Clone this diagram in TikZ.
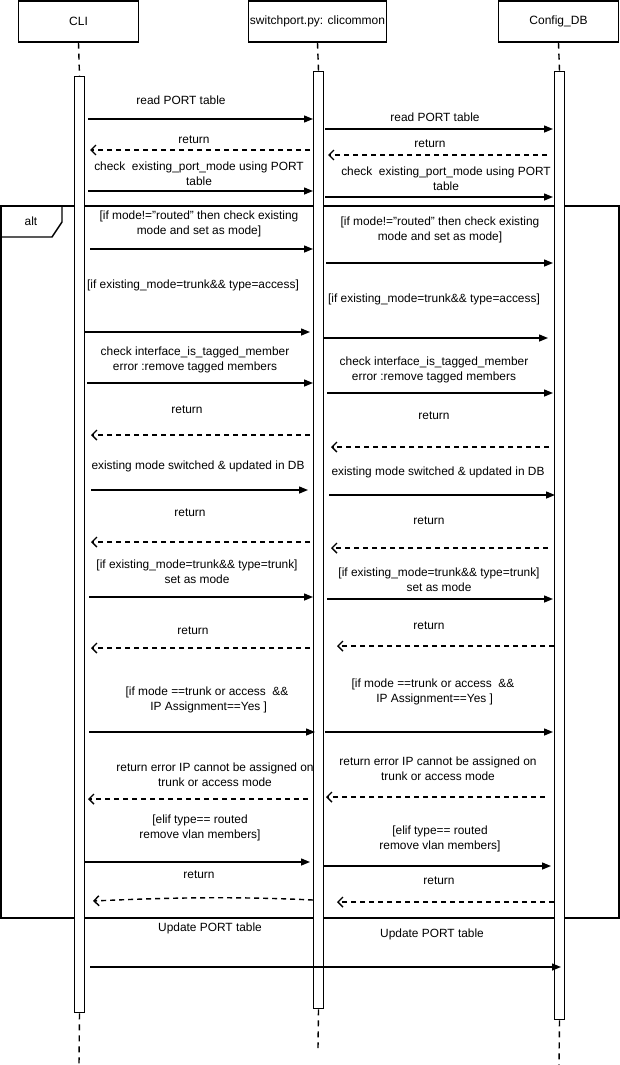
\documentclass[tikz,border=0pt]{standalone}
\usepackage{fontspec}
\setmainfont{Liberation Sans}
\usetikzlibrary{arrows.meta}
\begin{document}
\begin{tikzpicture}[x=1pt,y=-1pt,
  hdr/.style={draw, line width=1.4pt, minimum height=41pt, inner sep=0pt, font=\fontsize{12}{14}\selectfont},
  bar/.style={draw, fill=white, line width=1.4pt, minimum width=10pt, inner sep=0pt, anchor=north},
  life/.style={line width=1.4pt, dash pattern=on 6pt off 5pt},
  msg/.style={line width=1.4pt, -{Triangle[length=9pt,width=7pt]}},
  ret/.style={line width=1.4pt, dash pattern=on 5pt off 4pt, -{Straight Barb[length=5pt,width=10pt]}},
  lbl/.style={align=center, inner sep=0pt, font=\fontsize{11.9}{15}\selectfont},
  frame/.style={line width=1.4pt}]
\useasboundingbox (0,0) rectangle (620,1065);
% headers
\node[hdr, minimum width=120pt] (hCLI) at (78.5,21.5) {CLI};
\node[hdr, minimum width=138pt] (hSW) at (317.5,21.5) {switchport.py: clicommon};
\node[hdr, minimum width=120pt] (hDB) at (558.5,21.5) {Config\_DB};
% lifeline end points
\coordinate (eCLI) at (79,1065);
\coordinate (eSW) at (318,1048);
\coordinate (eDB) at (559,1065);
% alt frame
\draw[frame] (1,206) rectangle (619,918);
\draw[frame] (1,237) -- (52,237) -- (62,222) -- (62,206);
\node[lbl] (alt) at (31,221) {alt};
% bars
\node[bar, minimum height=936pt] (bCLI) at (79.5,76) {};
\node[bar, minimum height=937pt] (bSW) at (318.5,71) {};
\node[bar, minimum height=948pt] (bDB) at (559.5,71) {};
\draw[life] (hCLI.south) -- (bCLI.north);
\draw[life] (hSW.south) -- (bSW.north);
\draw[life] (hDB.south) -- (bDB.north);
\draw[life] (bCLI.south) -- (eCLI);
\draw[life] (bSW.south) -- (eSW);
\draw[life] (bDB.south) -- (eDB);
% message helper
\newcommand\Msg[5]{%
  \coordinate (#2s) at (#3,#5);
  \coordinate (#2e) at (#4,#5);
  \draw[#1] (#2s) -- (#2e);}
\newcommand\sq{\symbol{34}}
% 1
\Msg{msg}{m1}{88}{313}{119}
\node[lbl] (t1) at (181,100) {read PORT table};
\Msg{msg}{m2}{325}{553}{129}
\node[lbl] (t2) at (435,117) {read PORT table};
\Msg{ret}{m3}{310}{90}{150}
\node[lbl] (t3) at (194,140) {return};
\Msg{ret}{m4}{547}{328}{155}
\node[lbl] (t4) at (430,144) {return};
\Msg{msg}{m5}{88}{313}{191}
\node[lbl] (t5) at (199,173.5) {check\ \ existing\_port\_mode using PORT\\table};
\Msg{msg}{m6}{325}{553}{197}
\node[lbl] (t6) at (446,179) {check\ \ existing\_port\_mode using PORT\\table};
\Msg{msg}{m7}{90}{313}{249}
\node[lbl] (t7) at (199,224) {[if mode!=\sq routed\sq{} then check existing\\mode and set as mode]};
\Msg{msg}{m8}{326}{553}{263}
\node[lbl] (t8) at (440,230) {[if mode!=\sq routed\sq{} then check existing\\mode and set as mode]};
\Msg{msg}{m9}{85}{310}{332}
\node[lbl] (t9) at (193,285) {[if existing\_mode=trunk\&\& type=access]};
\Msg{msg}{m10}{323}{548}{338}
\node[lbl] (t10) at (434,299) {[if existing\_mode=trunk\&\& type=access]};
\Msg{msg}{m11}{87}{313}{383}
\node[lbl] (t11) at (195,359.5) {check interface\_is\_tagged\_member\\error :remove tagged members};
\Msg{msg}{m12}{327}{553}{393}
\node[lbl] (t12) at (434,369.5) {check interface\_is\_tagged\_member\\error :remove tagged members};
\Msg{ret}{m13}{310}{91}{435}
\node[lbl] (t13) at (187,410) {return};
\Msg{ret}{m14}{549}{331}{447}
\node[lbl] (t14) at (434,416) {return};
\Msg{msg}{m15}{91}{308}{490}
\node[lbl] (t15) at (198,466) {existing mode switched \& updated in DB};
\Msg{msg}{m16}{329}{555}{495}
\node[lbl] (t16) at (438,472) {existing mode switched \& updated in DB};
\Msg{ret}{m17}{310}{91}{542}
\node[lbl] (t17) at (190,513) {return};
\Msg{ret}{m18}{548}{331}{548}
\node[lbl] (t18) at (429,521) {return};
\Msg{msg}{m19}{89}{313}{597}
\node[lbl] (t19) at (197,571.5) {[if existing\_mode=trunk\&\& type=trunk]\\set as mode};
\Msg{msg}{m20}{327}{553}{599}
\node[lbl] (t20) at (439,579.5) {[if existing\_mode=trunk\&\& type=trunk]\\set as mode};
\Msg{ret}{m21}{310}{91}{648}
\node[lbl] (t21) at (193,631) {return};
\Msg{ret}{m22}{554}{337}{646}
\node[lbl] (t22) at (429,626) {return};
\Msg{msg}{m23}{89}{315}{732}
\node[lbl] (t23) at (207,699.5) {[if mode ==trunk or access\ \ \&\&\\\ IP Assignment==Yes ]};
\Msg{msg}{m24}{325}{553}{732}
\node[lbl] (t24) at (433,691.5) {[if mode ==trunk or access\ \ \&\&\\\ IP Assignment==Yes ]};
\Msg{ret}{m25}{308}{88}{799}
\node[lbl] (t25) at (215,774.5) {return error IP cannot be assigned on\\trunk or access mode};
\Msg{ret}{m26}{545}{326}{797}
\node[lbl] (t26) at (438,768.5) {return error IP cannot be assigned on\\trunk or access mode};
\Msg{msg}{m27}{84}{310}{862}
\node[lbl] (t27) at (200,827.5) {[elif type== routed\\remove vlan members]};
\Msg{msg}{m28}{323}{551}{866}
\node[lbl] (t28) at (440,839) {[elif type== routed\\remove vlan members]};
\coordinate (m29s) at (313,900);
\coordinate (m29e) at (93,901);
\draw[ret] (m29s) .. controls (230,896) and (160,898) .. (m29e);
\node[lbl] (t29) at (199,875) {return};
\Msg{ret}{m30}{554}{337}{902}
\node[lbl] (t30) at (439,881) {return};
\node[lbl] (t31a) at (210,928) {Update PORT table};
\node[lbl] (t31b) at (432,934) {Update PORT table};
\Msg{msg}{m31}{90}{561}{967}
\end{tikzpicture}
\end{document}
